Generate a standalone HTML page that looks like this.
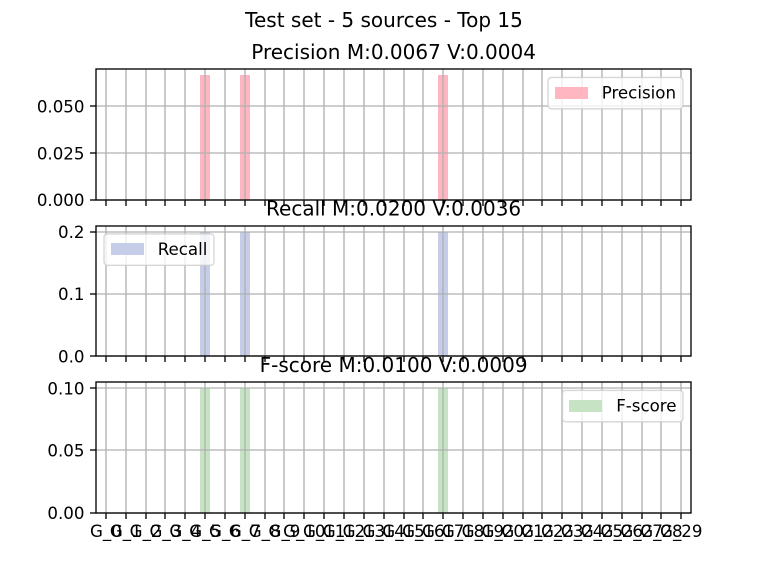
<!DOCTYPE html>
<html>
<head>
<meta charset="utf-8">
<title>Test set - 5 sources - Top 15</title>
<style>
html,body{margin:0;padding:0;background:#fff;width:768px;height:576px;overflow:hidden}
svg{display:block}
text{font-family:"DejaVu Sans","Liberation Sans",sans-serif;fill:#000}
</style>
</head>
<body>
<svg id="chart" xmlns="http://www.w3.org/2000/svg" width="768" height="576" viewBox="0 0 768 576">
<text x="384" y="27" font-size="20" text-anchor="middle">Test set - 5 sources - Top 15</text>
</svg>
<script>
const categories = ["G_0","G_1","G_2","G_3","G_4","G_5","G_6","G_7","G_8","G_9","G_10","G_11","G_12","G_13","G_14","G_15","G_16","G_17","G_18","G_19","G_20","G_21","G_22","G_23","G_24","G_25","G_26","G_27","G_28","G_29"];
const precisionValues = [0,0,0,0,0,0.0667,0,0.0667,0,0,0,0,0,0,0,0,0,0.0667,0,0,0,0,0,0,0,0,0,0,0,0];
const recallValues = [0,0,0,0,0,0.2,0,0.2,0,0,0,0,0,0,0,0,0,0.2,0,0,0,0,0,0,0,0,0,0,0,0];
const fscoreValues = [0,0,0,0,0,0.1,0,0.1,0,0,0,0,0,0,0,0,0,0.1,0,0,0,0,0,0,0,0,0,0,0,0];
const precisionTicks = [0,0.025,0.05];
const recallTicks = [0,0.1,0.2];
const fscoreTicks = [0,0.05,0.1];
const precisionTickLabels = ["0.000","0.025","0.050"];
const recallTickLabels = ["0.0","0.1","0.2"];
const fscoreTickLabels = ["0.00","0.05","0.10"];

const svg = document.getElementById('chart');
const NS = 'http://www.w3.org/2000/svg';
const LEFT = 96, RIGHT = 691.2, BAR_WIDTH = 0.5;

function make(tag, attrs, parent) {
  const el = document.createElementNS(NS, tag);
  for (const k in attrs) el.setAttribute(k, attrs[k]);
  (parent || svg).appendChild(el);
  return el;
}
function xScale(v) {
  return LEFT + (v + 0.5) / categories.length * (RIGHT - LEFT);
}

function drawPanel(p) {
  const g = make('g', {});
  
  
  const top = p.top, bottom = p.top + 130.4;
  const sTop = Math.round(top), sBottom = Math.round(bottom);
  const sLeft = Math.round(LEFT), sRight = Math.round(RIGHT);
  const maxV = Math.max.apply(null, p.values);
  const yMax = (maxV > 0 ? maxV : 1) * 1.05;
  const yScale = function (v) { return bottom - v / yMax * (bottom - top); };

  p.values.forEach(function (v, i) {
    const cx = xScale(i);
    const hw = (xScale(BAR_WIDTH) - xScale(0)) / 2;
    const x0 = Math.round(cx - hw), x1 = Math.round(cx + hw);
    const yt = Math.round(yScale(v));
    const bar = make('rect', {x: x0, y: yt, width: x1 - x0, height: Math.max(0, sBottom - yt), fill: p.color}, g);
    
    
  });

  categories.forEach(function (c, i) {
    const x = Math.round(xScale(i));
    const gl = make('line', {x1: x, x2: x, y1: sTop, y2: sBottom, stroke: '#b0b0b0', 'stroke-width': 1.33}, g);
    
    
    const tk = make('line', {x1: x, x2: x, y1: sBottom, y2: sBottom + 6, stroke: '#000', 'stroke-width': 1.33}, g);
    
    
    if (p.showLabels) {
      const t = make('text', {x: xScale(i), y: bottom + 24.5, 'font-size': 16.67, 'text-anchor': 'middle'}, g);
      
      
      t.textContent = c;
    }
  });

  p.ticks.forEach(function (v, i) {
    const y = Math.round(yScale(v));
    const gl = make('line', {x1: sLeft, x2: sRight, y1: y, y2: y, stroke: '#b0b0b0', 'stroke-width': 1.33}, g);
    
    
    const tk = make('line', {x1: sLeft - 6, x2: sLeft, y1: y, y2: y, stroke: '#000', 'stroke-width': 1.33}, g);
    
    
    const t = make('text', {x: LEFT - 11.5, y: yScale(v) + 6.3, 'font-size': 16.67, 'text-anchor': 'end'}, g);
    
    
    t.textContent = p.tickLabels[i];
  });

  const frame = make('rect', {x: sLeft, y: sTop, width: sRight - sLeft, height: sBottom - sTop, fill: 'none', stroke: '#000', 'stroke-width': 1.33}, g);
  
  

  const lg = make('g', {}, g);
  
  
  const lx = p.legendX, ly = top + 8.3;
  make('rect', {x: lx, y: ly, width: p.legendW, height: 31.4, rx: 3.3, ry: 3.3, fill: '#fff', 'fill-opacity': 0.8, stroke: '#ccc', 'stroke-opacity': 0.8, 'stroke-width': 1.33}, lg);
  const sw = make('rect', {x: Math.round(lx + 6.9), y: Math.round(ly + 9.2), width: 33, height: 12, fill: p.color}, lg);
  
  
  const lt = make('text', {x: lx + 53.7, y: ly + 21, 'font-size': 16.67}, lg);
  
  
  lt.textContent = p.label;

  const title = make('text', {x: (LEFT + RIGHT) / 2, y: top - 10, 'font-size': 20, 'text-anchor': 'middle'}, g);
  
  
  title.textContent = p.title;
}

drawPanel({key:'precision', label:'Precision', title:'Precision M:0.0067 V:0.0004', top:69.1, values:precisionValues, ticks:precisionTicks, tickLabels:precisionTickLabels, color:'#ffb6c1', legendX:548, legendW:135, showLabels:false});
drawPanel({key:'recall', label:'Recall', title:'Recall M:0.0200 V:0.0036', top:225.6, values:recallValues, ticks:recallTicks, tickLabels:recallTickLabels, color:'#c5cde8', legendX:104, legendW:110, showLabels:false});
drawPanel({key:'fscore', label:'F-score', title:'F-score M:0.0100 V:0.0009', top:382.1, values:fscoreValues, ticks:fscoreTicks, tickLabels:fscoreTickLabels, color:'#c6e4c4', legendX:562.5, legendW:120.5, showLabels:true});
</script>
</body>
</html>
